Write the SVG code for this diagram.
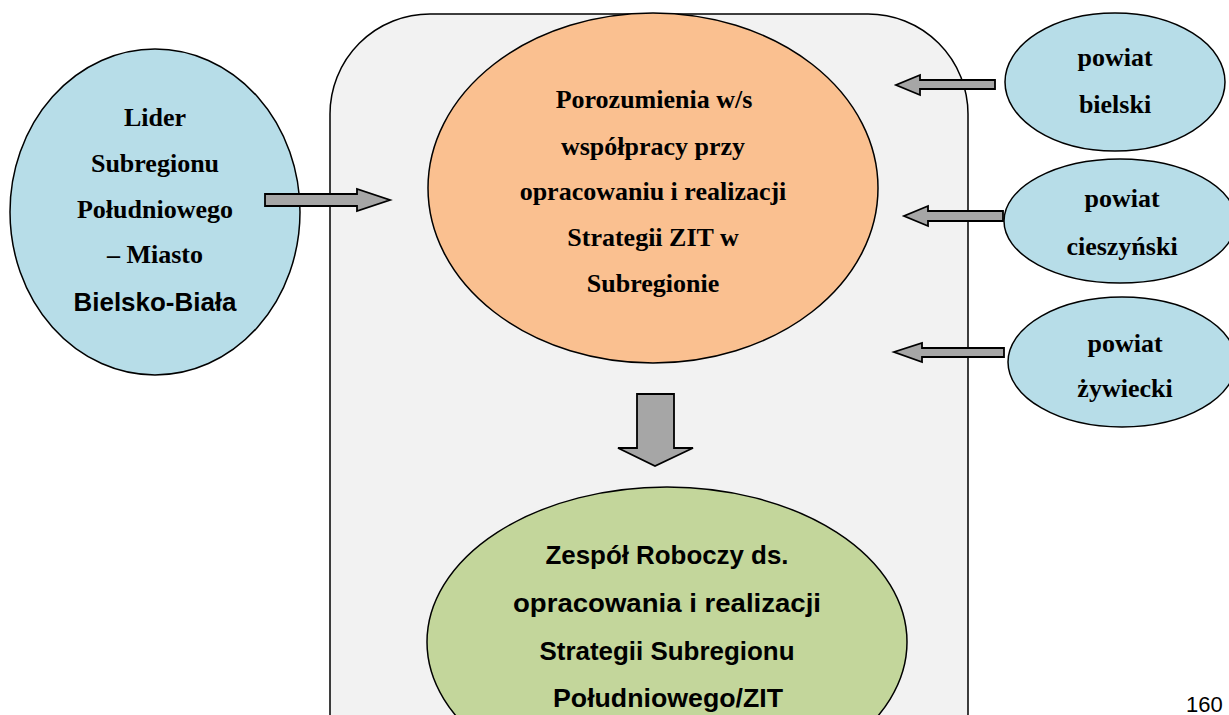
<svg xmlns="http://www.w3.org/2000/svg" width="1229" height="715" viewBox="0 0 1229 715">
<style>
.blue{fill:#b7dde8;stroke:#000;stroke-width:1.5}
.orange{fill:#fac090;stroke:#000;stroke-width:1.5}
.green{fill:#c3d69b;stroke:#000;stroke-width:1.5}
.arr{fill:#a6a6a6;stroke:#000;stroke-width:1.8;stroke-linejoin:miter}
.serif{font-family:"Liberation Serif","Times New Roman",serif;font-weight:bold;font-size:26px;text-anchor:middle;fill:#000}
.sans{font-family:"Liberation Sans",Arial,sans-serif;font-weight:bold;font-size:25px;text-anchor:middle;fill:#000}
</style>
<rect x="0" y="0" width="1229" height="715" fill="#fff"/>
<g id="container">
<rect x="330" y="14" width="638" height="800" rx="100" ry="100" fill="#f2f2f2" stroke="#000" stroke-width="1.5"/>
</g>
<g id="lider">
<ellipse class="blue" cx="155" cy="212" rx="145" ry="163"/>
<text class="serif" x="155" y="126">Lider</text>
<text class="serif" x="155" y="172">Subregionu</text>
<text class="serif" x="155" y="218">Południowego</text>
<text class="serif" x="155" y="263">– Miasto</text>
<text class="sans" x="155" y="311" textLength="163" lengthAdjust="spacingAndGlyphs">Bielsko-Biała</text>
</g>
<g id="porozumienia">
<ellipse class="orange" cx="653" cy="188" rx="225" ry="175"/>
<text class="serif" x="654" y="108">Porozumienia w/s</text>
<text class="serif" x="653" y="155">współpracy przy</text>
<text class="serif" x="653" y="200">opracowaniu i realizacji</text>
<text class="serif" x="653" y="246">Strategii ZIT w</text>
<text class="serif" x="653" y="292">Subregionie</text>
</g>
<g id="zespol">
<ellipse class="green" cx="667" cy="642" rx="240" ry="155"/>
<text class="sans" x="667" y="564" textLength="243" lengthAdjust="spacingAndGlyphs">Zespół Roboczy ds.</text>
<text class="sans" x="667" y="612" textLength="308" lengthAdjust="spacingAndGlyphs">opracowania i realizacji</text>
<text class="sans" x="667" y="660" textLength="255" lengthAdjust="spacingAndGlyphs">Strategii Subregionu</text>
<text class="sans" x="668" y="707" textLength="230" lengthAdjust="spacingAndGlyphs">Południowego/ZIT</text>
</g>
<g id="bielski">
<ellipse class="blue" cx="1115" cy="82" rx="110" ry="69"/>
<text class="serif" x="1115" y="66">powiat</text>
<text class="serif" x="1115" y="113">bielski</text>
</g>
<g id="cieszynski">
<ellipse class="blue" cx="1120" cy="221" rx="116" ry="62"/>
<text class="serif" x="1122" y="207">powiat</text>
<text class="serif" x="1122" y="255">cieszyński</text>
</g>
<g id="zywiecki">
<ellipse class="blue" cx="1122" cy="362" rx="114" ry="65"/>
<text class="serif" x="1125" y="352">powiat</text>
<text class="serif" x="1125" y="397">żywiecki</text>
</g>
<g id="connectors">
<polygon class="arr" points="265,194 357,194 357,189 390,200 357,211 357,206 265,206"/>
<polygon class="arr" points="995,80 920,80 920,75 896,85 920,95 920,89 995,89"/>
<polygon class="arr" points="1003,211 928,211 928,206 904,216 928,226 928,221 1003,221"/>
<polygon class="arr" points="1004,348 922,348 922,343 894,352 922,362 922,357 1004,357"/>
<polygon class="arr" points="637,394 674,394 674,448 693,448 655,466 618,448 637,448"/>
</g>
<text x="1186" y="712" style="font-family:'Liberation Sans',Arial,sans-serif;font-size:22px;fill:#000">160</text>
</svg>
